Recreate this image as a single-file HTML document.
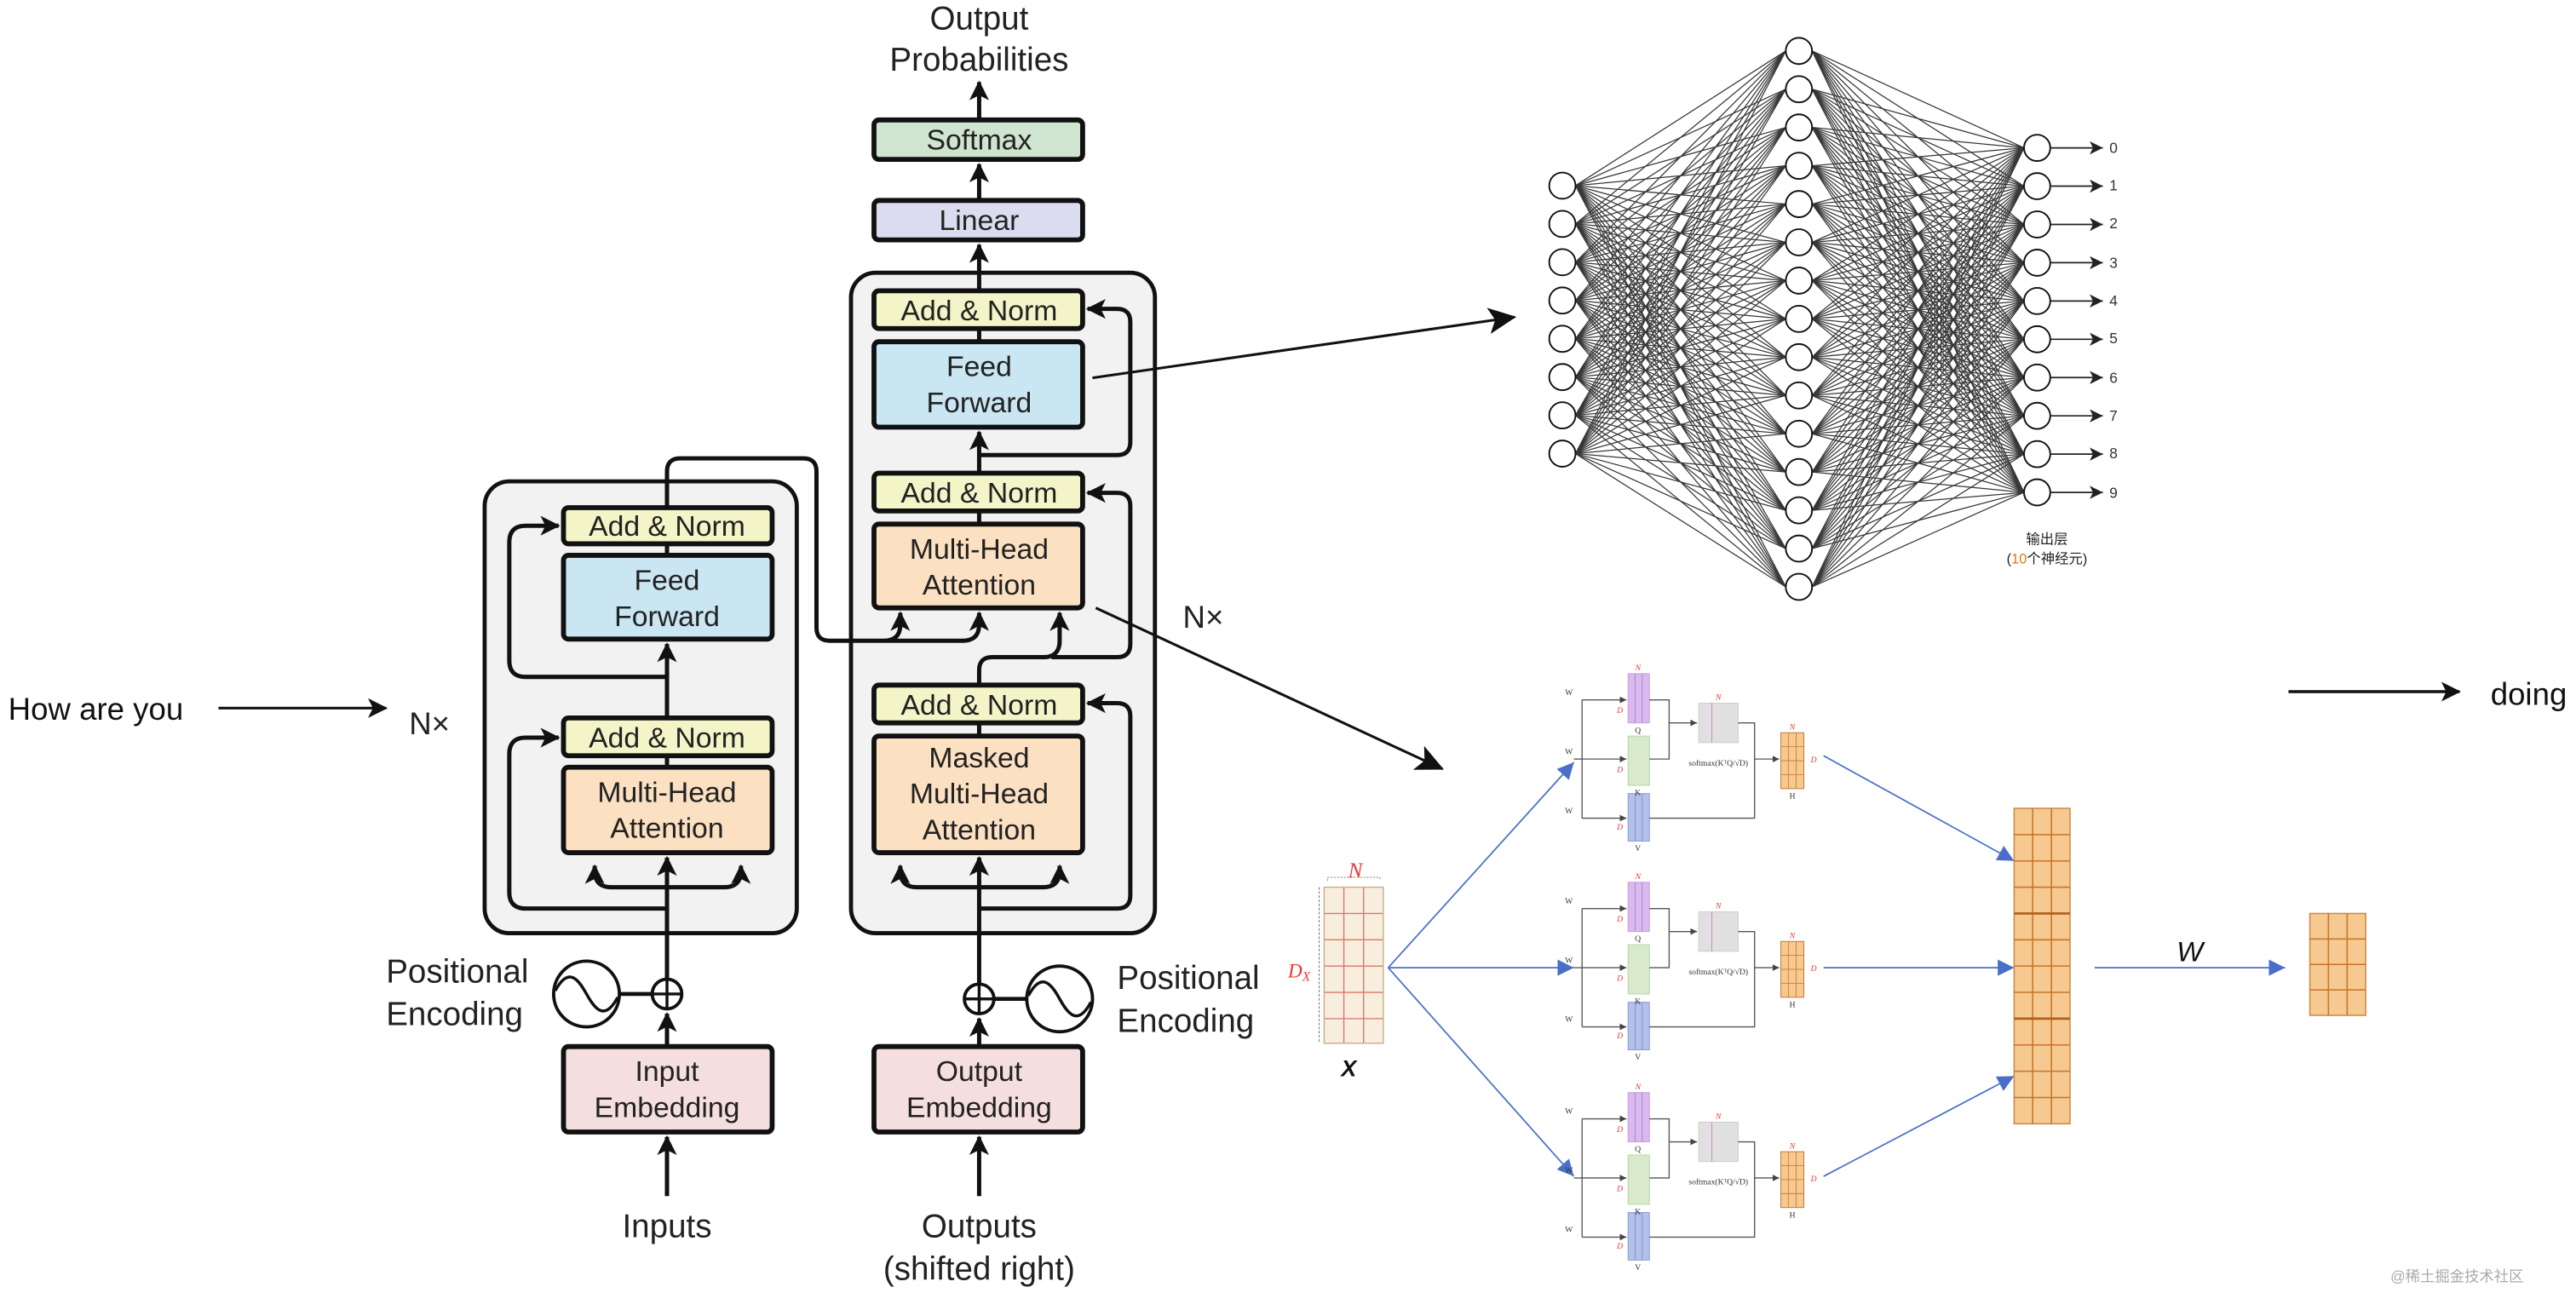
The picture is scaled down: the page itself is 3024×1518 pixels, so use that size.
<!DOCTYPE html>
<html><head><meta charset="utf-8">
<style>
html,body{margin:0;padding:0;background:#fff;}
svg{display:block;}
text{font-family:"Liberation Sans","Noto Sans CJK SC",sans-serif;}
.bx{stroke:#111;stroke-width:3;}
.t{font-size:17.5px;text-anchor:middle;fill:#222;}
.lb{font-size:20px;fill:#222;}
.ln{fill:none;stroke:#111;stroke-width:2.6;}
.tiny{font-family:"Liberation Serif",serif;font-size:5px;fill:#333;}
.red{font-family:"Liberation Serif",serif;font-style:italic;fill:#e33;}
</style></head>
<body>
<svg id="s" width="3024" height="1518" viewBox="0 0 1568 787" preserveAspectRatio="none" xmlns="http://www.w3.org/2000/svg">
<defs>
<marker id="a" markerUnits="userSpaceOnUse" markerWidth="14" markerHeight="14" refX="11" refY="6" orient="auto"><path d="M0,0 L12,6 L0,12 L3,6 Z" fill="#111"/></marker>
<marker id="a2" markerUnits="userSpaceOnUse" markerWidth="20" markerHeight="20" refX="16" refY="8" orient="auto"><path d="M0,0 L17,8 L0,16 L4,8 Z" fill="#111"/></marker>
<marker id="b" markerUnits="userSpaceOnUse" markerWidth="12" markerHeight="12" refX="10" refY="5" orient="auto"><path d="M0,0 L10,5 L0,10 Z" fill="#4a6fc8"/></marker>
<marker id="g" markerUnits="userSpaceOnUse" markerWidth="6" markerHeight="6" refX="4" refY="2" orient="auto"><path d="M0,0 L4,2 L0,4 Z" fill="#444"/></marker>
<marker id="n" markerUnits="userSpaceOnUse" markerWidth="10" markerHeight="10" refX="8" refY="4" orient="auto"><path d="M0,0 L8,4 L0,8 L2,4Z" fill="#222"/></marker>
</defs>

<!-- left text -->
<text x="5" y="438" style="font-size:19px;fill:#111">How are you</text>
<line x1="133" y1="431" x2="235" y2="431" stroke="#111" stroke-width="1.6" marker-end="url(#a)"/>
<text x="249" y="447" class="lb" style="font-size:19px">N×</text>
<text x="720" y="382" class="lb" style="font-size:19px">N×</text>
<line x1="1393" y1="421" x2="1497" y2="421" stroke="#111" stroke-width="1.8" marker-end="url(#a)"/>
<text x="1516" y="429" style="font-size:19px;fill:#111">doing</text>

<!-- encoder / decoder frames -->
<rect x="295" y="293" width="190" height="275" rx="15" fill="#f2f2f2" stroke="#111" stroke-width="2.5"/>
<rect x="518" y="166" width="185" height="402" rx="15" fill="#f2f2f2" stroke="#111" stroke-width="2.5"/>

<!-- encoder lines -->
<line class="ln" x1="406" y1="728" x2="406" y2="692" marker-end="url(#a)"/>
<line class="ln" x1="406" y1="637" x2="406" y2="617" marker-end="url(#a)"/>
<line class="ln" x1="406" y1="596" x2="406" y2="522" marker-end="url(#a)"/>
<path class="ln" d="M406,540 H372 Q362,540 362,530 V527" marker-end="url(#a)"/>
<path class="ln" d="M406,540 H441 Q451,540 451,530 V527" marker-end="url(#a)"/>
<path class="ln" d="M406,553 H320 Q310,553 310,543 V459 Q310,449 320,449 H340" marker-end="url(#a)"/>
<line class="ln" x1="406" y1="467" x2="406" y2="460"/>
<line class="ln" x1="406" y1="437" x2="406" y2="392" marker-end="url(#a)"/>
<path class="ln" d="M406,412 H320 Q310,412 310,402 V330 Q310,320 320,320 H340" marker-end="url(#a)"/>
<line class="ln" x1="406" y1="338" x2="406" y2="331"/>
<path class="ln" d="M406,309 V287 Q406,279 414,279 H489 Q497,279 497,287 V382 Q497,390 505,390 H538 Q548,390 548,380 V373" marker-end="url(#a)"/>
<path class="ln" d="M540,390 H586 Q596,390 596,380 V373" marker-end="url(#a)"/>

<!-- decoder lines -->
<line class="ln" x1="596" y1="728" x2="596" y2="692" marker-end="url(#a)"/>
<line class="ln" x1="596" y1="637" x2="596" y2="620" marker-end="url(#a)"/>
<line class="ln" x1="596" y1="599" x2="596" y2="522" marker-end="url(#a)"/>
<path class="ln" d="M596,540 H558 Q548,540 548,530 V527" marker-end="url(#a)"/>
<path class="ln" d="M596,540 H635 Q645,540 645,530 V527" marker-end="url(#a)"/>
<path class="ln" d="M596,553 H680 Q688,553 688,545 V436 Q688,428 680,428 H662" marker-end="url(#a)"/>
<line class="ln" x1="596" y1="448" x2="596" y2="440"/>
<path class="ln" d="M596,417 V408 Q596,400 604,400 H635 Q645,400 645,390 V373" marker-end="url(#a)"/>
<path class="ln" d="M640,400 H680 Q688,400 688,392 V308 Q688,300 680,300 H662" marker-end="url(#a)"/>
<line class="ln" x1="596" y1="319" x2="596" y2="311"/>
<line class="ln" x1="596" y1="288" x2="596" y2="263" marker-end="url(#a)"/>
<path class="ln" d="M596,277 H680 Q688,277 688,269 V196 Q688,188 680,188 H662" marker-end="url(#a)"/>
<line class="ln" x1="596" y1="208" x2="596" y2="200"/>
<line class="ln" x1="596" y1="177" x2="596" y2="149" marker-end="url(#a)"/>
<line class="ln" x1="596" y1="122" x2="596" y2="100" marker-end="url(#a)"/>
<line class="ln" x1="596" y1="73" x2="596" y2="50" marker-end="url(#a)"/>

<!-- encoder boxes -->
<rect class="bx" x="343" y="309" width="127" height="22" rx="3" fill="#f3f5c8"/><text class="t" x="406" y="326">Add &amp; Norm</text>
<rect class="bx" x="343" y="338" width="127" height="51" rx="3" fill="#c9e6f2"/><text class="t" x="406" y="359">Feed</text><text class="t" x="406" y="381">Forward</text>
<rect class="bx" x="343" y="437" width="127" height="23" rx="3" fill="#f3f5c8"/><text class="t" x="406" y="455">Add &amp; Norm</text>
<rect class="bx" x="343" y="467" width="127" height="52" rx="3" fill="#fbe0c2"/><text class="t" x="406" y="488">Multi-Head</text><text class="t" x="406" y="510">Attention</text>
<rect class="bx" x="343" y="637" width="127" height="52" rx="3" fill="#f5dede"/><text class="t" x="406" y="658">Input</text><text class="t" x="406" y="680">Embedding</text>

<!-- decoder boxes -->
<rect class="bx" x="532" y="73" width="127" height="24" rx="3" fill="#cfe5cf"/><text class="t" x="596" y="91">Softmax</text>
<rect class="bx" x="532" y="122" width="127" height="24" rx="3" fill="#dcdcf0"/><text class="t" x="596" y="140">Linear</text>
<rect class="bx" x="532" y="177" width="127" height="23" rx="3" fill="#f3f5c8"/><text class="t" x="596" y="195">Add &amp; Norm</text>
<rect class="bx" x="532" y="208" width="127" height="52" rx="3" fill="#c9e6f2"/><text class="t" x="596" y="229">Feed</text><text class="t" x="596" y="251">Forward</text>
<rect class="bx" x="532" y="288" width="127" height="23" rx="3" fill="#f3f5c8"/><text class="t" x="596" y="306">Add &amp; Norm</text>
<rect class="bx" x="532" y="319" width="127" height="51" rx="3" fill="#fbe0c2"/><text class="t" x="596" y="340">Multi-Head</text><text class="t" x="596" y="362">Attention</text>
<rect class="bx" x="532" y="417" width="127" height="23" rx="3" fill="#f3f5c8"/><text class="t" x="596" y="435">Add &amp; Norm</text>
<rect class="bx" x="532" y="448" width="127" height="71" rx="3" fill="#fbe0c2"/><text class="t" x="596" y="467">Masked</text><text class="t" x="596" y="489">Multi-Head</text><text class="t" x="596" y="511">Attention</text>
<rect class="bx" x="532" y="637" width="127" height="52" rx="3" fill="#f5dede"/><text class="t" x="596" y="658">Output</text><text class="t" x="596" y="680">Embedding</text>

<!-- positional encodings -->
<circle cx="406" cy="605" r="9" fill="#fff" stroke="#111" stroke-width="2"/><path d="M397,605H415M406,596V614" stroke="#111" stroke-width="1.8"/>
<line x1="377" y1="605" x2="397" y2="605" stroke="#111" stroke-width="2.4"/>
<circle cx="357" cy="605" r="20" fill="#fff" stroke="#111" stroke-width="2"/>
<path d="M338,603 C346,588 352,596 357,605 C362,614 368,622 376,607" fill="none" stroke="#111" stroke-width="1.8"/>
<circle cx="596" cy="608" r="9" fill="#fff" stroke="#111" stroke-width="2"/><path d="M587,608H605M596,599V617" stroke="#111" stroke-width="1.8"/>
<line x1="605" y1="608" x2="625" y2="608" stroke="#111" stroke-width="2.4"/>
<circle cx="645" cy="608" r="20" fill="#fff" stroke="#111" stroke-width="2"/>
<path d="M626,606 C634,591 640,599 645,608 C650,617 656,625 664,610" fill="none" stroke="#111" stroke-width="1.8"/>
<text class="lb" x="235" y="598">Positional</text><text class="lb" x="235" y="624">Encoding</text>
<text class="lb" x="680" y="602">Positional</text><text class="lb" x="680" y="628">Encoding</text>
<text class="lb" x="406" y="753" text-anchor="middle">Inputs</text>
<text class="lb" x="596" y="753" text-anchor="middle">Outputs</text>
<text class="lb" x="596" y="779" text-anchor="middle">(shifted right)</text>
<text class="lb" x="596" y="18" text-anchor="middle">Output</text>
<text class="lb" x="596" y="43" text-anchor="middle">Probabilities</text>

<!-- pointer arrows -->
<line x1="665" y1="230" x2="922" y2="193" stroke="#111" stroke-width="1.6" marker-end="url(#a2)"/>
<line x1="667" y1="370" x2="878" y2="468" stroke="#111" stroke-width="1.6" marker-end="url(#a2)"/>

<!-- neural network -->
<g id="nn" stroke="#222" stroke-width="0.65" opacity="0.9"></g>
<g id="nodes" fill="#fff" stroke="#111" stroke-width="1"></g>
<g font-family="Liberation Serif,serif" font-size="9" fill="#333">
<text x="1284" y="93">0</text><text x="1284" y="116">1</text><text x="1284" y="139">2</text><text x="1284" y="163">3</text><text x="1284" y="186">4</text><text x="1284" y="209">5</text><text x="1284" y="233">6</text><text x="1284" y="256">7</text><text x="1284" y="279">8</text><text x="1284" y="303">9</text>
</g>
<text x="1246" y="331" text-anchor="middle" style="font-size:8.5px;fill:#222">输出层</text>
<text x="1246" y="343" text-anchor="middle" style="font-size:8.5px;fill:#222">(<tspan fill="#d87a1a">10</tspan>个神经元)</text>

<!-- multi-head attention panel -->
<rect x="806" y="540" width="36" height="95" fill="#f7eedd"/>
<g stroke="#d9776a" stroke-width="0.7"><path d="M818,540V635M830,540V635M806,556H842M806,572H842M806,588H842M806,604H842M806,620H842"/></g>
<rect x="806" y="540" width="36" height="95" fill="none" stroke="#c9a98a" stroke-width="0.7"/>
<line x1="803" y1="540" x2="803" y2="635" stroke="#666" stroke-width="0.5" stroke-dasharray="1.5,1"/>
<path d="M808,536V534H840V536" fill="none" stroke="#777" stroke-width="0.5" stroke-dasharray="1,1"/>
<text class="red" x="825" y="534" text-anchor="middle" font-size="13">N</text>
<text class="red" x="784" y="595" font-size="12">D<tspan font-size="8" dy="2">X</tspan></text>
<text x="821" y="655" text-anchor="middle" font-family="Liberation Serif,serif" font-style="italic" font-weight="bold" font-size="14" fill="#111">X</text>
<g stroke="#4a6fc8" stroke-width="0.9">
<line x1="845" y1="589" x2="958" y2="464" marker-end="url(#b)"/>
<line x1="845" y1="589" x2="958" y2="589" marker-end="url(#b)"/>
<line x1="845" y1="589" x2="958" y2="716" marker-end="url(#b)"/>
<line x1="1110" y1="460" x2="1226" y2="524" marker-end="url(#b)"/>
<line x1="1110" y1="589" x2="1226" y2="589" marker-end="url(#b)"/>
<line x1="1110" y1="716" x2="1226" y2="655" marker-end="url(#b)"/>
<line x1="1275" y1="589" x2="1391" y2="589" marker-end="url(#b)"/>
</g>
<text x="1333" y="585" text-anchor="middle" font-family="Liberation Serif,serif" font-style="italic" font-size="17" fill="#111">W</text>
<rect x="1226" y="492" width="34" height="192" fill="#f5c990" stroke="#d08a45" stroke-width="0.8"/>
<rect x="1406" y="556" width="34" height="62" fill="#f5c990" stroke="#d08a45" stroke-width="0.8"/>
<g stroke="#c8732a" stroke-width="0.8">
<path d="M1237.3,492V684M1248.7,492V684"/>
<path d="M1226,508H1260M1226,524H1260M1226,540H1260M1226,572H1260M1226,588H1260M1226,604H1260M1226,636H1260M1226,652H1260M1226,668H1260"/>
<path d="M1417.3,556V618M1428.7,556V618M1406,571.5H1440M1406,587H1440M1406,602.5H1440"/>
</g>
<path d="M1226,556H1260M1226,620H1260" stroke="#b0601c" stroke-width="1.4"/>
<g id="heads"></g>

<text x="1455" y="780" style="font-size:9px;fill:#aaa">@稀土掘金技术社区</text>
</svg>
<script>
(function(){
var NS="http://www.w3.org/2000/svg";
function el(t,a,p){var e=document.createElementNS(NS,t);for(var k in a)e.setAttribute(k,a[k]);p.appendChild(e);return e;}
var nn=document.getElementById("nn"),nodes=document.getElementById("nodes");
var L1=[],L2=[],L3=[],i,j;
for(i=0;i<8;i++)L1.push([951,113+i*23.3]);
for(i=0;i<15;i++)L2.push([1095,31+i*23.3]);
for(i=0;i<10;i++)L3.push([1240,90+i*23.3]);
for(i=0;i<8;i++)for(j=0;j<15;j++)el("line",{x1:L1[i][0]+8,y1:L1[i][1],x2:L2[j][0]-8,y2:L2[j][1]},nn);
for(i=0;i<15;i++)for(j=0;j<10;j++)el("line",{x1:L2[i][0]+8,y1:L2[i][1],x2:L3[j][0]-8,y2:L3[j][1]},nn);
[L1,L2,L3].forEach(function(L){L.forEach(function(p){el("circle",{cx:p[0],cy:p[1],r:8},nodes);});});
L3.forEach(function(p){el("line",{x1:1248,y1:p[1],x2:1280,y2:p[1],stroke:"#222","stroke-width":0.9,"marker-end":"url(#n)"},nodes);});
var H=document.getElementById("heads");
[462,589,717].forEach(function(c){
 var g=el("g",{},H);
 function ln(d,m){var o={d:d,stroke:"#555","stroke-width":0.7,fill:"none"};if(m)o["marker-end"]="url(#g)";el("path",o,g);}
 ln("M963,"+(c)+"H958");
 ln("M963,"+(c-36)+"V"+(c+36));
 ln("M963,"+(c-36)+"H990",1);ln("M963,"+c+"H990",1);ln("M963,"+(c+36)+"H990",1);
 el("rect",{x:991,y:c-52,width:13,height:30,fill:"#dcb8ee",stroke:"#c6a0de","stroke-width":0.5},g);
 el("rect",{x:991,y:c-14,width:13,height:30,fill:"#d8eacb",stroke:"#b9d4a8","stroke-width":0.5},g);
 el("rect",{x:991,y:c+21,width:13,height:29,fill:"#b3c0ea",stroke:"#8b9cd4","stroke-width":0.5},g);
 el("path",{d:"M995.3,"+(c-52)+"V"+(c-22)+"M999.6,"+(c-52)+"V"+(c-22)+"M995.3,"+(c+21)+"V"+(c+50)+"M999.6,"+(c+21)+"V"+(c+50),stroke:"#7a8bc4","stroke-width":0.4},g);
 ln("M1004,"+(c-36)+"H1016V"+c+"H1004");
 ln("M1016,"+(c-22)+"H1033",1);
 el("rect",{x:1034,y:c-34,width:24,height:24,fill:"#e0e0e0",stroke:"#ccc","stroke-width":0.5},g);
 el("path",{d:"M1042,"+(c-34)+"V"+(c-10),stroke:"#d080d0","stroke-width":0.5},g);
 ln("M1058,"+(c-22)+"H1068V"+(c+36)+"H1004");
 ln("M1068,"+c+"H1083",1);
 el("rect",{x:1084,y:c-16,width:14,height:34,fill:"#f5c990",stroke:"#c8732a","stroke-width":0.5},g);
 el("path",{d:"M1088.7,"+(c-16)+"V"+(c+18)+"M1093.3,"+(c-16)+"V"+(c+18)+"M1084,"+(c-7.5)+"H1098M1084,"+(c+1)+"H1098M1084,"+(c+9.5)+"H1098",stroke:"#c8732a","stroke-width":0.4},g);
 var t=el("text",{x:1046,y:c+4,"class":"tiny","text-anchor":"middle"},g);t.textContent="softmax(KᵀQ/√D)";
 var q=[["W",955,c-39],["W",955,c-3],["W",955,c+33],["Q",997,c-16],["K",997,c+22],["V",997,c+56],["H",1091,c+24]];
 q.forEach(function(a){var tt=el("text",{x:a[1],y:a[2],"class":"tiny","text-anchor":"middle"},g);tt.textContent=a[0];});
 [[997,c-54,"N"],[1046,c-36,"N"],[1091,c-18,"N"],[1104,c+2,"D"],[986,c-28,"D"],[986,c+8,"D"],[986,c+43,"D"]].forEach(function(a){var tt=el("text",{x:a[0],y:a[1],"class":"red","font-size":5,"text-anchor":"middle"},g);tt.textContent=a[2];});
});
})();
</script>
</body></html>
